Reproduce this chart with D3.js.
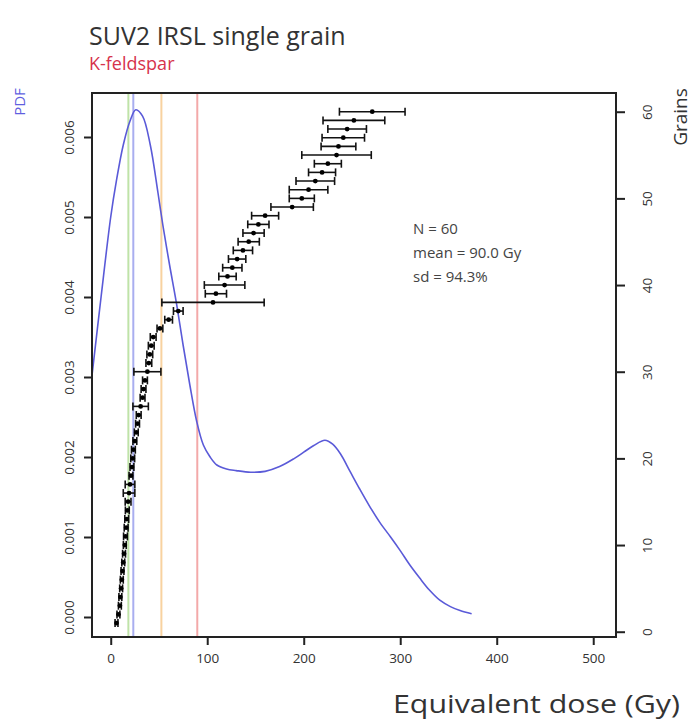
<!DOCTYPE html>
<html>
<head>
<meta charset="utf-8">
<script src="https://cdn.jsdelivr.net/npm/d3@7"></script>
<style>
  body { margin: 0; background: #fff; }
  svg { display: block; }
  text { font-family: "Open Sans", "Noto Sans", sans-serif; }
</style>
</head>
<body>
<svg id="chart" width="693" height="725"></svg>
<script>
// ---- data ----
const grains = d3.range(1, 61);
const edValues = [6, 8, 9.5, 10, 10.8, 11.5, 12.2, 13, 13.8, 14.6,
  15.3, 16, 16.6, 17.2, 18, 19, 20, 21, 22, 22.8,
  23.5, 25, 26.5, 27.8, 29, 31, 33, 34, 35.5, 38,
  39.5, 40.5, 42, 44, 51, 60, 70, 106, 109, 118,
  121, 126, 131, 137, 143, 148, 153, 160, 188, 198,
  205, 212, 219, 225, 234, 236, 241, 245, 252, 271];
const edErrors = [1.5, 1.5, 1.5, 1.5, 1.5, 1.5, 1.5, 1.5, 1.5, 1.5,
  2, 2, 2, 2, 3, 6, 5, 2, 2, 2,
  2, 2, 2, 2, 2.5, 8, 2.5, 2.5, 2.5, 14,
  3, 3, 3, 3, 3, 4, 5, 53, 11, 21,
  9, 10, 9, 10, 11, 11, 11, 14, 22, 13,
  20, 20, 14, 14, 36, 18, 22, 20, 32, 34];
const kdeX = [-19.4, -10, 0, 6, 13, 20, 26, 33, 41, 49, 54, 61, 68, 75, 82, 89, 96,
  103, 110, 120, 130, 145, 160, 175, 190, 200, 210, 222, 230, 238, 248, 258, 268, 279,
  290, 300, 310, 320, 330, 341, 352, 362, 374];
const kdeY = [0.00302, 0.0040, 0.0050, 0.00546, 0.0059, 0.0062, 0.00634, 0.00626, 0.0059,
  0.0053, 0.0049, 0.0044, 0.00393, 0.0034, 0.0029, 0.00245, 0.00215,
  0.0020, 0.0019, 0.00185, 0.00183, 0.00181, 0.00182, 0.00188, 0.00198, 0.00206, 0.00214,
  0.00221, 0.00216, 0.00204, 0.00182, 0.0016, 0.00139, 0.00118,
  0.0010, 0.00083, 0.00065, 0.00049, 0.00034, 0.00021, 0.00013, 0.00008, 0.00004];
const refLineValues = [18.3, 23.4, 52.5, 89.7];
const refLineColors = ["#bfe3a8", "#a9aef0", "#f8d2a0", "#f3a9a9"];
const xTicks = [0, 100, 200, 300, 400, 500];
const pdfTicks = [0, 0.001, 0.002, 0.003, 0.004, 0.005, 0.006];
const grainTicks = [0, 10, 20, 30, 40, 50, 60];
const statLines = ["N = 60", "mean = 90.0 Gy", "sd = 94.3%"];

// ---- layout ----
const L = 92, R = 616, T = 93, B = 637;
const svg = d3.select("#chart");
svg.append("rect").attr("width", 693).attr("height", 725).attr("fill", "#fff");

const x = d3.scaleLinear().domain([-19.4, 523.6]).range([L, R]);
const yPdf = d3.scaleLinear().domain([-0.00025, 0.00655]).range([B, T]);
const yGr = d3.scaleLinear().domain([-0.61, 62.16]).range([B, T]);

// reference lines
svg.append("g").selectAll("line").data(refLineValues).join("line")
  .attr("x1", d => x(d)).attr("x2", d => x(d))
  .attr("y1", T).attr("y2", B)
  .attr("stroke", (d, i) => refLineColors[i]).attr("stroke-width", 2);

// KDE curve
const kde = kdeX.map((d, i) => [d, kdeY[i]]);
svg.append("path").datum(kde)
  .attr("fill", "none").attr("stroke", "#5a5ad8").attr("stroke-width", 1.6)
  .attr("d", d3.line().x(d => x(d[0])).y(d => yPdf(d[1])).curve(d3.curveCatmullRom.alpha(0.5)));

// error bars and points
const pts = grains.map((g, i) => ({ g, ed: edValues[i], err: edErrors[i] }));
const eb = svg.append("g").attr("stroke", "#111").attr("stroke-width", 1.6);
eb.selectAll("line.h").data(pts).join("line").attr("class", "h")
  .attr("x1", d => x(d.ed - d.err)).attr("x2", d => x(d.ed + d.err))
  .attr("y1", d => yGr(d.g)).attr("y2", d => yGr(d.g));
eb.selectAll("line.cl").data(pts).join("line").attr("class", "cl")
  .attr("x1", d => x(d.ed - d.err)).attr("x2", d => x(d.ed - d.err))
  .attr("y1", d => yGr(d.g) - 4).attr("y2", d => yGr(d.g) + 4);
eb.selectAll("line.cr").data(pts).join("line").attr("class", "cr")
  .attr("x1", d => x(d.ed + d.err)).attr("x2", d => x(d.ed + d.err))
  .attr("y1", d => yGr(d.g) - 4).attr("y2", d => yGr(d.g) + 4);
svg.append("g").selectAll("circle").data(pts).join("circle")
  .attr("cx", d => x(d.ed)).attr("cy", d => yGr(d.g)).attr("r", 2.4).attr("fill", "#000");

// box
svg.append("rect").attr("x", L).attr("y", T).attr("width", R - L).attr("height", B - T)
  .attr("fill", "none").attr("stroke", "#222").attr("stroke-width", 2);

// axes
const gx = svg.append("g").attr("transform", `translate(0,${B})`)
  .call(d3.axisBottom(x).tickValues(xTicks).tickSize(8).tickPadding(8).tickFormat(d3.format("d")));
const gl = svg.append("g").attr("transform", `translate(${L},0)`)
  .call(d3.axisLeft(yPdf).tickValues(pdfTicks).tickSize(8).tickFormat(d3.format(".3f")));
const gr = svg.append("g").attr("transform", `translate(${R},0)`)
  .call(d3.axisRight(yGr).tickValues(grainTicks).tickSize(9).tickFormat(d3.format("d")));
[gx, gl, gr].forEach(g => {
  g.select(".domain").remove();
  g.selectAll(".tick line").attr("stroke", "#222").attr("stroke-width", 2);
  g.selectAll(".tick text").attr("fill", "#333").style("font-size", "13.5px");
});
gl.selectAll(".tick text").attr("x", null).attr("dy", null)
  .attr("text-anchor", "middle")
  .attr("transform", "translate(-23,0) rotate(-90)").attr("dy", "0.35em");
gr.selectAll(".tick text").attr("x", null).attr("dy", null)
  .attr("text-anchor", "middle")
  .attr("transform", "translate(31,0) rotate(-90)").attr("dy", "0.35em");

// titles
svg.append("text").attr("x", 89).attr("y", 45).attr("fill", "#333")
  .style("font-size", "25px").text("SUV2 IRSL single grain");
svg.append("text").attr("x", 89).attr("y", 70).attr("fill", "#d6334c")
  .style("font-size", "18px").text("K-feldspar");
svg.append("text").attr("transform", "translate(25,102) rotate(-90)")
  .attr("text-anchor", "middle").attr("fill", "#5f5fe0").style("font-size", "15px").text("PDF");
svg.append("text").attr("transform", "translate(687,117) rotate(-90)")
  .attr("text-anchor", "middle").attr("fill", "#333").style("font-size", "19px").text("Grains");
svg.append("text").attr("x", 393).attr("y", 713)
  .attr("textLength", 287).attr("lengthAdjust", "spacingAndGlyphs")
  .attr("fill", "#333").style("font-size", "26px").text("Equivalent dose (Gy)");
svg.append("g").selectAll("text").data(statLines).join("text")
  .attr("x", 413).attr("y", (d, i) => 234 + i * 24)
  .attr("fill", "#444").style("font-size", "15px").text(d => d);
</script>
</body>
</html>
